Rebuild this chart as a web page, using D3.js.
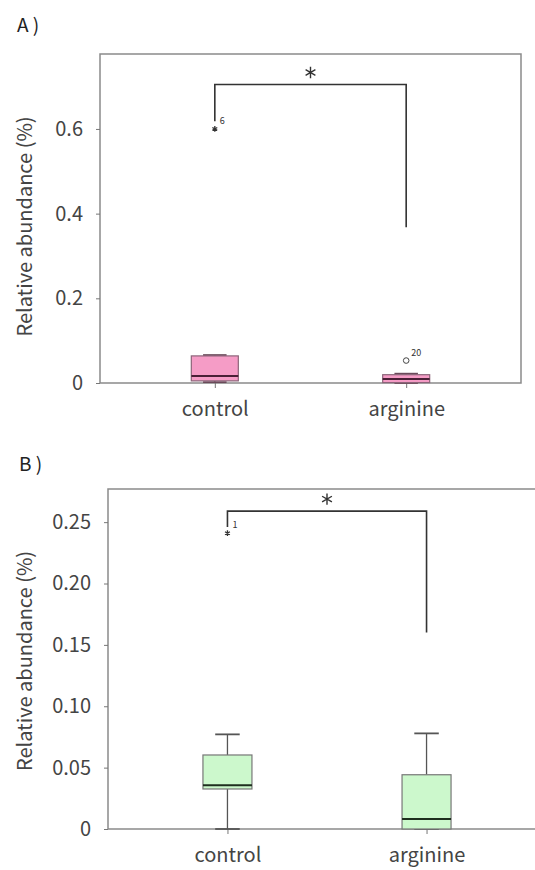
<!DOCTYPE html>
<html>
<head>
<meta charset="utf-8">
<script src="https://cdn.jsdelivr.net/npm/d3@7"></script>
<style>
  body { margin: 0; background: white; }
  text { font-family: "Noto Sans CJK JP", "Noto Sans", sans-serif; fill: #444; }
</style>
</head>
<body>
<div class="canvas"></div>
<script>
var width = 535;
var height = 870;

// categories
var categories = ["control", "arginine"];

// panel A box stats (relative abundance %)
var aLow = [0.002, 0.0];
var aQ1 = [0.005, 0.001];
var aMedian = [0.0165, 0.0094];
var aQ3 = [0.064, 0.0196];
var aHigh = [0.066, 0.022];
var aOutCat = ["control", "arginine"];
var aOutVal = [0.6, 0.053];
var aOutLabel = ["6", "20"];
var aOutShape = ["star", "circle"];
var aTicks = [0, 0.2, 0.4, 0.6];
var aTickLabels = ["0", "0.2", "0.4", "0.6"];
var aBracket = [0.618, 0.705, 0.368]; // left leg end, top, right leg end

// panel B box stats
var bLow = [0.0, 0.0];
var bQ1 = [0.0326, 0.0];
var bMedian = [0.0356, 0.0081];
var bQ3 = [0.0603, 0.0442];
var bHigh = [0.0771, 0.0779];
var bOutCat = ["control"];
var bOutVal = [0.241];
var bOutLabel = ["1"];
var bOutShape = ["star"];
var bTicks = [0, 0.05, 0.10, 0.15, 0.20, 0.25];
var bTickLabels = ["0", "0.05", "0.10", "0.15", "0.20", "0.25"];
var bBracket = [0.246, 0.259, 0.16];

var svg = d3.select(".canvas").append("svg")
    .attr("width", width)
    .attr("height", height)
    .style("background", "white");

function drawPanel(p) {
    var g = svg.append("g");

    var x = d3.scalePoint().domain(categories).range([p.left, p.right]).padding(0.6);
    var y = d3.scaleLinear().domain([0, p.yMax]).range([p.bottom, p.top]);

    // panel letter
    g.append("text").attr("x", p.letterX).attr("y", p.letterY)
        .style("font-size", "19px").style("fill", "#222").text(p.letter);

    // frame
    g.append("rect")
        .attr("x", p.left).attr("y", p.top)
        .attr("width", p.right - p.left).attr("height", p.bottom - p.top)
        .attr("fill", "none").attr("stroke", "#8a8a8a").attr("stroke-width", 1.5);

    // y axis
    var yAxis = d3.axisLeft(y).tickValues(p.ticks).tickSize(4).tickPadding(13)
        .tickFormat((d, i) => p.tickLabels[i]);
    var ya = g.append("g").attr("transform", "translate(" + p.left + ",0)").call(yAxis);
    ya.select(".domain").remove();
    ya.selectAll("line").attr("stroke", "#777");
    ya.selectAll("text").style("font-size", "20px").style("fill", "#444").attr("font-family", null);

    // x axis
    var xAxis = d3.axisBottom(x).tickSize(5).tickPadding(10);
    var xa = g.append("g").attr("transform", "translate(0," + p.bottom + ")").call(xAxis);
    xa.select(".domain").remove();
    xa.selectAll("line").attr("stroke", "#777");
    xa.selectAll("text").style("font-size", "20px").style("fill", "#444").attr("font-family", null)
        .attr("dy", "0.9em");

    // y label
    g.append("text")
        .attr("transform", "translate(" + p.labelX + "," + ((p.top + p.bottom) / 2 + p.labelShift) + ") rotate(-90)")
        .attr("text-anchor", "middle")
        .attr("dy", "0.35em")
        .style("font-size", "20px")
        .text("Relative abundance (%)");

    var bw = p.boxWidth;
    var cw = bw / 2;

    categories.forEach(function (c, i) {
        var cx = x(c);
        // whiskers
        g.append("line").attr("x1", cx).attr("x2", cx)
            .attr("y1", y(p.q3[i])).attr("y2", y(p.high[i]))
            .attr("stroke", "#555").attr("stroke-width", 1.3);
        g.append("line").attr("x1", cx).attr("x2", cx)
            .attr("y1", y(p.q1[i])).attr("y2", y(p.low[i]))
            .attr("stroke", "#555").attr("stroke-width", 1.3);
        g.append("line").attr("x1", cx - cw / 2).attr("x2", cx + cw / 2)
            .attr("y1", y(p.high[i])).attr("y2", y(p.high[i]))
            .attr("stroke", p.capColor).attr("stroke-width", 1.8);
        g.append("line").attr("x1", cx - cw / 2).attr("x2", cx + cw / 2)
            .attr("y1", y(p.low[i])).attr("y2", y(p.low[i]))
            .attr("stroke", p.capColor).attr("stroke-width", 1.8);
        // box
        g.append("rect")
            .attr("x", cx - bw / 2).attr("y", y(p.q3[i]))
            .attr("width", bw).attr("height", y(p.q1[i]) - y(p.q3[i]))
            .attr("fill", p.fill).attr("stroke", p.boxStroke).attr("stroke-width", 1.2);
        g.append("line").attr("x1", cx - bw / 2).attr("x2", cx + bw / 2)
            .attr("y1", y(p.median[i])).attr("y2", y(p.median[i]))
            .attr("stroke", p.medianColor).attr("stroke-width", 2);
    });

    // outliers
    p.outCat.forEach(function (c, i) {
        var cx = x(c), cy = y(p.outVal[i]);
        if (p.outShape[i] == "star") {
            g.append("path").attr("transform", "translate(" + cx + "," + cy + ")")
                .attr("d", d3.symbol(d3.symbolAsterisk, 22)())
                .attr("stroke", "#333").attr("stroke-width", 1.3).attr("fill", "none");
        } else {
            g.append("circle").attr("cx", cx).attr("cy", cy).attr("r", 2.8)
                .attr("fill", "white").attr("stroke", "#444").attr("stroke-width", 1);
        }
        g.append("text").attr("x", cx + 5).attr("y", cy - 5)
            .style("font-size", "9px").style("fill", "#333").text(p.outLabel[i]);
    });

    // significance bracket
    var x0 = x(categories[0]), x1 = x(categories[1]);
    g.append("path")
        .attr("d", "M" + x0 + "," + y(p.bracket[0]) + "V" + y(p.bracket[1]) +
            "H" + x1 + "V" + y(p.bracket[2]))
        .attr("fill", "none").attr("stroke", "#333").attr("stroke-width", 1.6);
    g.append("path")
        .attr("transform", "translate(" + ((x0 + x1) / 2) + "," + (y(p.bracket[1]) - 12) + ")")
        .attr("d", d3.symbol(d3.symbolAsterisk, 90)())
        .attr("fill", "none").attr("stroke", "#333").attr("stroke-width", 1.4);
}

drawPanel({
    letter: "A )", letterX: 17, letterY: 32,
    left: 100, right: 521, top: 54, bottom: 383, yMax: 0.777,
    ticks: aTicks, tickLabels: aTickLabels, labelX: 25, labelShift: 8,
    low: aLow, q1: aQ1, median: aMedian, q3: aQ3, high: aHigh,
    outCat: aOutCat, outVal: aOutVal, outLabel: aOutLabel, outShape: aOutShape,
    bracket: aBracket, boxWidth: 47,
    fill: "#f59cc6", boxStroke: "#8c6479", medianColor: "#4a1f36", capColor: "#6a4a5a"
});

drawPanel({
    letter: "B )", letterX: 19, letterY: 471,
    left: 108, right: 546, top: 489, bottom: 829, yMax: 0.277,
    ticks: bTicks, tickLabels: bTickLabels, labelX: 25, labelShift: 2,
    low: bLow, q1: bQ1, median: bMedian, q3: bQ3, high: bHigh,
    outCat: bOutCat, outVal: bOutVal, outLabel: bOutLabel, outShape: bOutShape,
    bracket: bBracket, boxWidth: 49,
    fill: "#ccf8cc", boxStroke: "#777", medianColor: "#1e2e1e", capColor: "#555"
});
</script>
</body>
</html>
